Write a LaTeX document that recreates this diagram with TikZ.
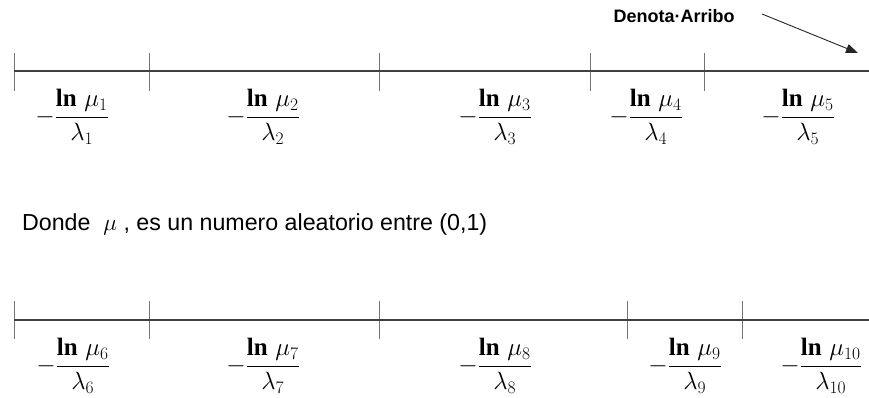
\documentclass[tikz,border=0pt]{standalone}
\usepackage{fix-cm}
\usepackage{amsmath}
\usepackage{fontspec}
\newfontfamily\lsans{Liberation Sans}
\newfontfamily\lserif{Liberation Serif}
\newcommand{\lnb}{\text{\lserif\bfseries ln}}
\usetikzlibrary{arrows.meta}
\begin{document}
\begin{tikzpicture}[x=1pt,y=-1pt,
  axisline/.style={draw=black!75, line width=1.1pt},
  tickmark/.style={draw=black!55, line width=0.9pt},
  frac/.style={inner sep=0pt, font=\fontsize{25}{30}\selectfont},
  note/.style={inner sep=0pt, anchor=base west, font=\lsans\fontsize{23.2}{27}\selectfont},
  arrnote/.style={inner sep=0pt, font=\lsans\bfseries\fontsize{18}{21}\selectfont}]
\useasboundingbox (0,0) rectangle (869,398);
% top axis
\coordinate (t0) at (14,71);
\coordinate (tend) at (869,71);
\foreach \n/\x in {1/14,2/149,3/379,4/590,5/704}{
  \coordinate (ta\n) at (\x,53);
  \coordinate (tb\n) at (\x,91);
  \draw[tickmark] (ta\n) -- (tb\n);
}
\draw[axisline] (t0) -- (tend);
% bottom axis
\coordinate (b0) at (14,320);
\coordinate (bend) at (869,320);
\foreach \n/\x in {1/14,2/149,3/379,4/627,5/742}{
  \coordinate (ba\n) at (\x,301);
  \coordinate (bb\n) at (\x,339);
  \draw[tickmark] (ba\n) -- (bb\n);
}
\draw[axisline] (b0) -- (bend);
% top fractions
\node[frac] (f1) at (72,117) {$-\dfrac{\lnb\ \mu_1}{\lambda_1}$};
\node[frac] (f2) at (263,117) {$-\dfrac{\lnb\ \mu_2}{\lambda_2}$};
\node[frac] (f3) at (495,117) {$-\dfrac{\lnb\ \mu_3}{\lambda_3}$};
\node[frac] (f4) at (646,117) {$-\dfrac{\lnb\ \mu_4}{\lambda_4}$};
\node[frac] (f5) at (798,117) {$-\dfrac{\lnb\ \mu_5}{\lambda_5}$};
% bottom fractions
\node[frac] (f6) at (73,366) {$-\dfrac{\lnb\ \mu_6}{\lambda_6}$};
\node[frac] (f7) at (263,366) {$-\dfrac{\lnb\ \mu_7}{\lambda_7}$};
\node[frac] (f8) at (495,366) {$-\dfrac{\lnb\ \mu_8}{\lambda_8}$};
\node[frac] (f9) at (685,366) {$-\dfrac{\lnb\ \mu_9}{\lambda_9}$};
\node[frac] (f10) at (821,366) {$-\dfrac{\lnb\ \mu_{10}}{\lambda_{10}}$};
% note
\node[note] (donde) at (22,230) {Donde \ $\mu$ , es un numero aleatorio entre (0,1)};
% arrow note
\node[arrnote] (arr) at (674,16) {Denota·Arribo};
\coordinate (arrstart) at (762,14);
\coordinate (arrend) at (858,53);
\draw[black!85, line width=0.9pt, -{Triangle[length=12pt,width=9pt]}] (arrstart) -- (arrend);
\end{tikzpicture}
\end{document}
